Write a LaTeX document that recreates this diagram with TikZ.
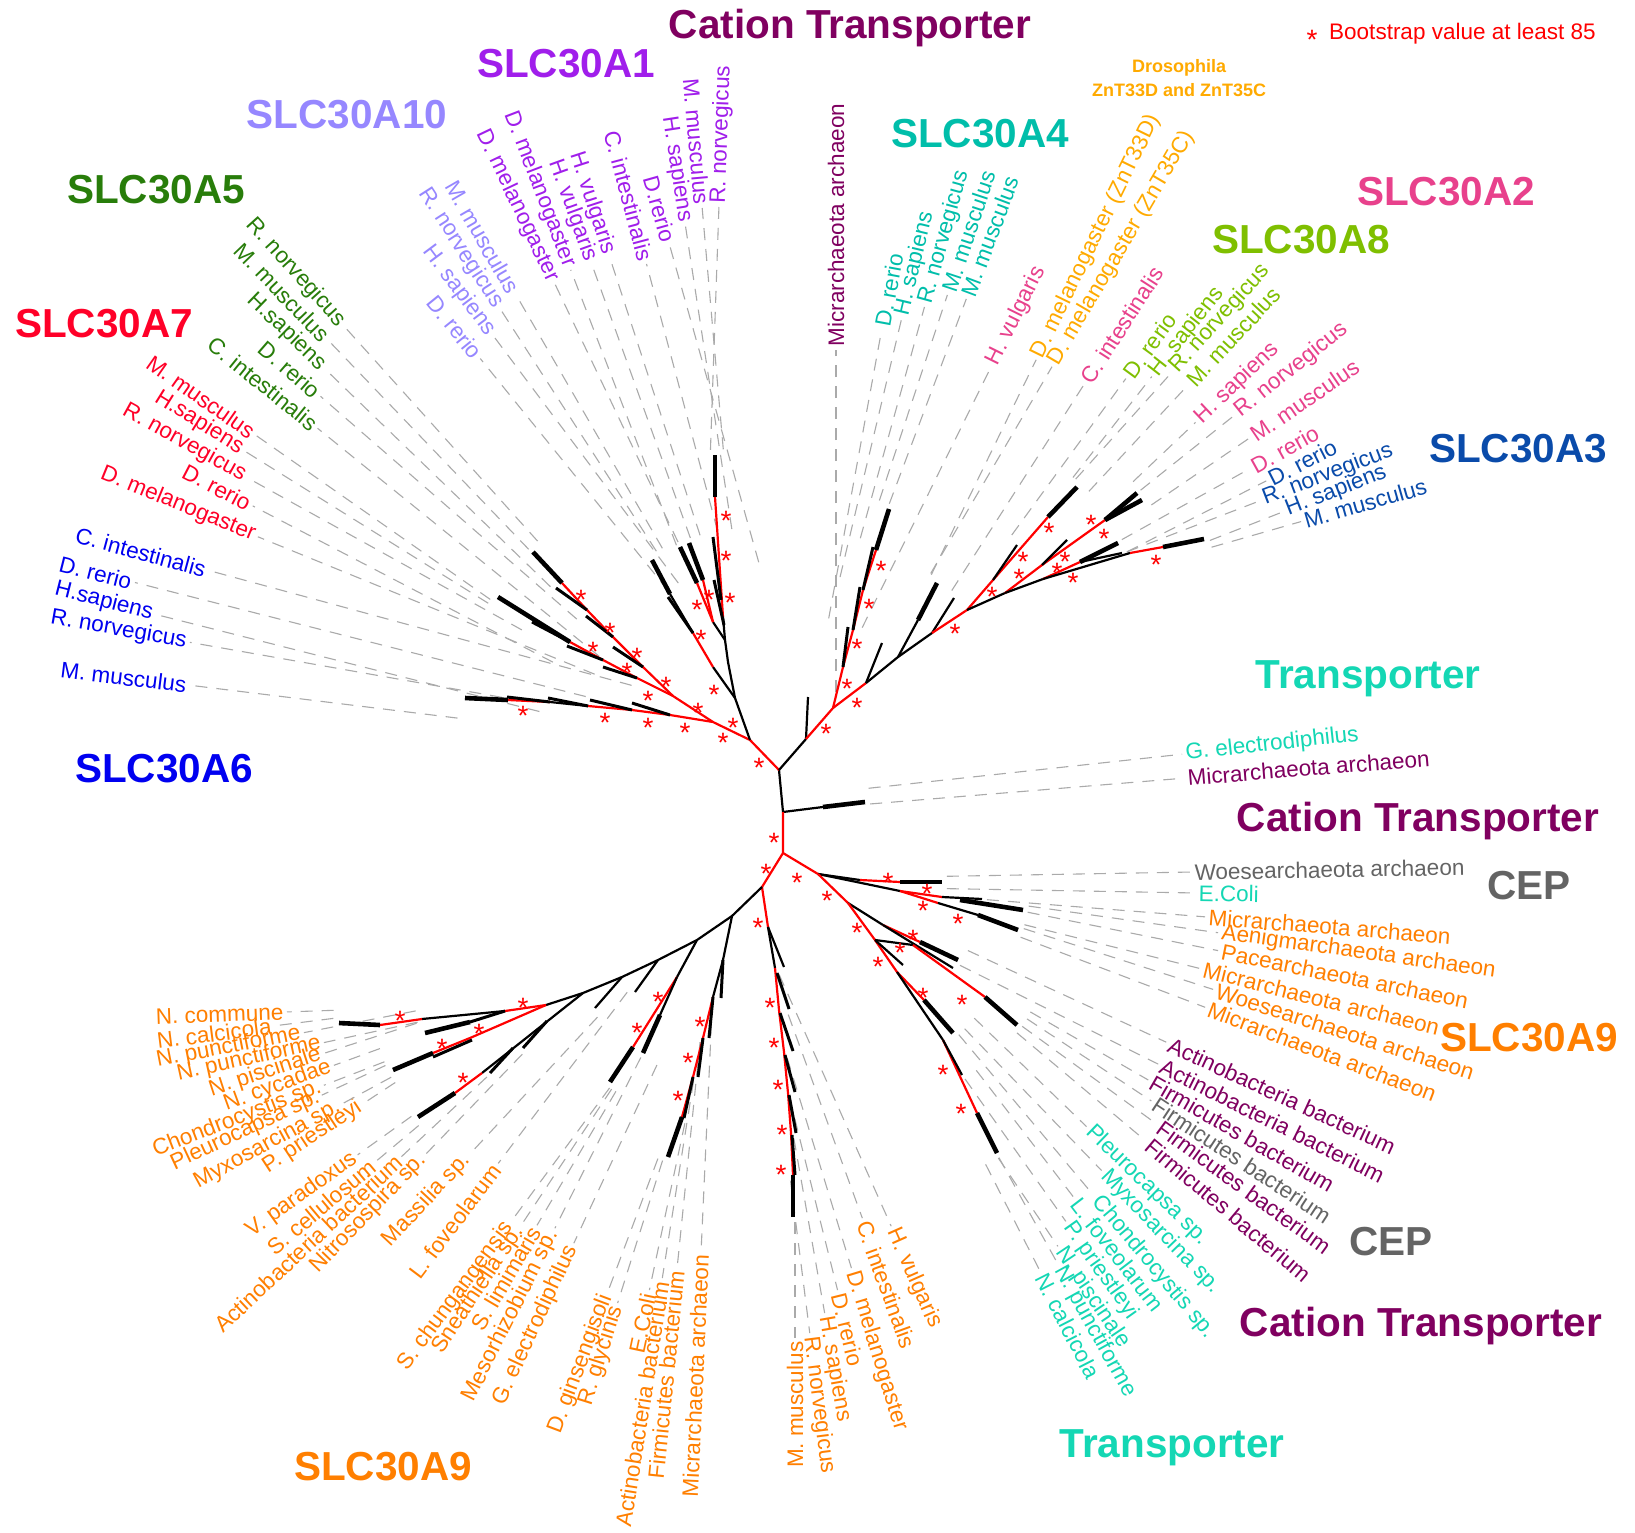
\documentclass[tikz,border=0pt]{standalone}
\usepackage{fontspec}
\setmainfont{Liberation Sans}
\usetikzlibrary{calc}
\definecolor{catp}{HTML}{800060}
\definecolor{cAone}{HTML}{A01EEB}
\definecolor{cAten}{HTML}{9687FF}
\definecolor{cAfive}{HTML}{287D0A}
\definecolor{cAseven}{HTML}{FF0028}
\definecolor{cAsix}{HTML}{0000F0}
\definecolor{cAfour}{HTML}{00BEAA}
\definecolor{turq}{HTML}{14D7B4}
\definecolor{amber}{HTML}{FFAA00}
\definecolor{pinkc}{HTML}{E8418C}
\definecolor{lime}{HTML}{7FBF00}
\definecolor{dblue}{HTML}{0A4BAA}
\definecolor{orng}{HTML}{FF7F00}
\definecolor{greyc}{HTML}{646464}
\definecolor{dashc}{HTML}{AAAAAA}
\definecolor{treered}{HTML}{FF0000}
% #1 name, #2 tip coordinate, #3 inner end point, #4 outward angle, #5 colour, #6 text
\newcommand\leaf[6]{%
  \pgfmathsetmacro\lang{#4}%
  \pgfmathtruncatemacro\lside{or(\lang>90,\lang<-89.99)}%
  \ifnum\lside=1
    \node[lbl,text=#5,anchor=east,rotate=\lang+180] (#1) at (#3) {#6};
    \path let \p1=(#2), \p2=(#1.east), \n1={max((\x2-\x1)*cos(\lang)+(\y2-\y1)*sin(\lang),20pt)} in
      (#1.east) ++({\lang+180}:\n1) coordinate (#1s);
    \draw[dline] (#1s) -- (#1.east);
  \else
    \node[lbl,text=#5,anchor=west,rotate=\lang] (#1) at (#3) {#6};
    \path let \p1=(#2), \p2=(#1.west), \n1={max((\x2-\x1)*cos(\lang)+(\y2-\y1)*sin(\lang),20pt)} in
      (#1.west) ++({\lang+180}:\n1) coordinate (#1s);
    \draw[dline] (#1s) -- (#1.west);
  \fi}
\begin{document}
\begin{tikzpicture}[x=1pt,y=-1pt,
  lbl/.style={font=\fontsize{22.5}{27}\selectfont,inner sep=1.5pt},
  hd/.style={font=\fontsize{40.5}{48}\selectfont\bfseries,inner sep=0pt,anchor=base},
  sh/.style={font=\fontsize{18}{22}\selectfont\bfseries,inner sep=0pt,anchor=base,text=amber},
  ibr/.style={line width=2.2pt,line join=round},
  rbr/.style={ibr,treered},
  tbr/.style={line width=4.6pt},
  sbr/.style={line width=3pt},
  dline/.style={dashc,line width=1.1pt,dash pattern=on 12pt off 9pt,shorten <=5pt,shorten >=2pt},
  bst/.style={text=treered,font=\fontsize{28}{28}\selectfont,inner sep=0pt,yshift=-6pt}]
\fill[white] (0,0) rectangle (1635,1533);
\useasboundingbox (0,0) rectangle (1635,1533);

% ---------- tips ----------
\coordinate (tAa) at (715,455); \coordinate (tAb) at (713,537); \coordinate (tAc) at (714,580);
\coordinate (tAd) at (689,543); \coordinate (tAe) at (680,547);
\coordinate (tTa) at (652,560); \coordinate (tTb) at (668,597);
\coordinate (tFa) at (533,552); \coordinate (tFb) at (556,588); \coordinate (tFc) at (586,616); \coordinate (tFd) at (613,647);
\coordinate (tSa) at (498,597); \coordinate (tSb) at (532,622); \coordinate (tSc) at (567,646); \coordinate (tSd) at (603,667);
\coordinate (tXa) at (632,703); \coordinate (tXb) at (590,700); \coordinate (tXc) at (548,698); \coordinate (tXd) at (507,697); \coordinate (tXe) at (465,698);
\coordinate (tMic) at (808,697);
\coordinate (tQa) at (848,627); \coordinate (tQb) at (860,587); \coordinate (tQc) at (873,547); \coordinate (tQd) at (889,509);
\coordinate (tHv) at (882,643); \coordinate (tDm) at (937,583); \coordinate (tCi) at (954,598);
\coordinate (tEa) at (1017,545); \coordinate (tEb) at (1077,487);
\coordinate (tBa) at (1137,493); \coordinate (tBb) at (1142,500);
\coordinate (tCa) at (1118,543); \coordinate (tCb) at (1122,553); \coordinate (tCc) at (1204,539);
\coordinate (tGe) at (865,802);
\coordinate (tWo) at (942,882); \coordinate (tRa) at (982,899); \coordinate (tRb) at (1023,910); \coordinate (tRc) at (1018,930);
\coordinate (tKa) at (958,960); \coordinate (tKb) at (953,968); \coordinate (tFi) at (1017,1025);
\coordinate (tYa) at (953,1033); \coordinate (tYb) at (962,1075); \coordinate (tYc) at (997,1153);
\coordinate (tVa) at (784,967); \coordinate (tVb) at (789,1009); \coordinate (tVc) at (793,1051); \coordinate (tVd) at (795,1092);
\coordinate (tVe) at (796,1133); \coordinate (tVf) at (795,1175); \coordinate (tVg) at (793,1217);
\coordinate (tWa) at (721,998); \coordinate (tWb) at (709,1038); \coordinate (tWc) at (698,1077); \coordinate (tWd) at (684,1118); \coordinate (tWe) at (668,1157);
\coordinate (tUa) at (643,1053); \coordinate (tUb) at (610,1082);
\coordinate (tLf) at (635,992); \coordinate (tMa) at (595,1008);
\coordinate (tNa) at (523,1048); \coordinate (tNb) at (490,1073); \coordinate (tNc) at (418,1117);
\coordinate (tOa) at (339,1023); \coordinate (tOb) at (425,1033); \coordinate (tOc) at (393,1070);

% ---------- leaf labels ----------
\leaf{l1}{tAa}{719,205}{88}{cAone}{R. norvegicus}
\leaf{l2}{tAa}{702,206}{95}{cAone}{M. musculus}
\leaf{l3}{tAb}{685,223}{98.7}{cAone}{H. sapiens}
\leaf{l4}{tAc}{669,243}{105.7}{cAone}{D.rerio}
\leaf{l5}{tAd}{646,262}{104.9}{cAone}{C. intestinalis}
\leaf{l6}{tAe}{609,255}{108}{cAone}{H. vulgaris}
\leaf{l7}{tAe}{591,262}{109.8}{cAone}{H. vulgaris}
\leaf{l8}{tTa}{570,268}{111}{cAone}{D. melanogaster}
\leaf{l9}{tTa}{554,282}{115.5}{cAone}{D. melanogaster}
\leaf{l10}{tTa}{515,293}{120}{cAten}{M. musculus}
\leaf{l11}{tTa}{499,307}{122.8}{cAten}{R. norvegicus}
\leaf{l12}{tTb}{492,334}{126.8}{cAten}{H. sapiens}
\leaf{l13}{tTb}{479,357}{129}{cAten}{D. rerio}
\leaf{l14}{tFa}{343,325}{132}{cAfive}{R. norvegicus}
\leaf{l15}{tFa}{327,339}{133.8}{cAfive}{M. musculus}
\leaf{l16}{tFb}{324,368}{136}{cAfive}{H.sapiens}
\leaf{l17}{tFc}{319,395}{139}{cAfive}{D. rerio}
\leaf{l18}{tFd}{316,427}{141}{cAfive}{C. intestinalis}
\leaf{l19}{tSa}{254,434}{145}{cAseven}{M. musculus}
\leaf{l20}{tSa}{243,450}{148}{cAseven}{H.sapiens}
\leaf{l21}{tSb}{246,477}{151}{cAseven}{R. norvegicus}
\leaf{l22}{tSc}{251,505}{152.5}{cAseven}{D. rerio}
\leaf{l23}{tSd}{256,536}{157.8}{cAseven}{D. melanogaster}
\leaf{l24}{tXa}{207,570}{164.8}{cAsix}{C. intestinalis}
\leaf{l25}{tXb}{133,582}{165.8}{cAsix}{D. rerio}
\leaf{l26}{tXc}{154,614}{165.8}{cAsix}{H.sapiens}
\leaf{l27}{tXd}{188,642}{170}{cAsix}{R. norvegicus}
\leaf{l28}{tXe}{188,685}{173}{cAsix}{M. musculus}
\leaf{l29}{tMic}{836,348}{90}{catp}{Micrarchaeota archaeon}
\leaf{l30}{tQa}{882,328}{79.6}{cAfour}{D. rerio}
\leaf{l31}{tQb}{902,317}{76.6}{cAfour}{H. sapiens}
\leaf{l32}{tQc}{925,305}{74.5}{cAfour}{R. norvegicus}
\leaf{l33}{tQd}{948,293}{71.7}{cAfour}{M. musculus}
\leaf{l34}{tQd}{967,297}{69.4}{cAfour}{M. musculus}
\leaf{l35}{tHv}{992,365}{63.7}{pinkc}{H. vulgaris}
\leaf{l36}{tDm}{1037,358}{64}{amber}{D. melanogaster (ZnT33D)}
\leaf{l37}{tDm}{1053,365}{59.6}{amber}{D. melanogaster (ZnT35C)}
\leaf{l38}{tCi}{1085,383}{57.3}{pinkc}{C. intestinalis}
\leaf{l39}{tEa}{1127,377}{53.9}{lime}{D. rerio}
\leaf{l40}{tEb}{1153,375}{52}{lime}{H. sapiens}
\leaf{l41}{tEb}{1173,371}{48}{lime}{R. norvegicus}
\leaf{l42}{tEb}{1189,384}{47}{lime}{M. musculus}
\leaf{l43}{tBa}{1197,421}{43.5}{pinkc}{H. sapiens}
\leaf{l44}{tBb}{1236,414}{38.6}{pinkc}{R. norvegicus}
\leaf{l45}{tBb}{1251,437}{34.3}{pinkc}{M. musculus}
\leaf{l46}{tCa}{1251,468}{29}{pinkc}{D. rerio}
\leaf{l47}{tCb}{1268,480}{27}{dblue}{D. rerio}
\leaf{l48}{tCb}{1262,500}{21}{dblue}{R. norvegicus}
\leaf{l49}{tCc}{1285,511}{21.4}{dblue}{H. sapiens}
\leaf{l50}{tCc}{1303,521}{16}{dblue}{M. musculus}
\leaf{l51}{tGe}{1184,754}{6.2}{turq}{G. electrodiphilus}
\leaf{l52}{tGe}{1186,778}{4.7}{catp}{Micrarchaeota archaeon}
\leaf{l53}{tWo}{1193,872}{1}{greyc}{Woesearchaeota archaeon}
\leaf{l54}{tWo}{1197,893}{-1}{turq}{E.Coli}
\leaf{l55}{tRa}{1207,917}{-4.5}{orng}{Micrarchaeota archaeon}
\leaf{l56}{tRb}{1220,933}{-8}{orng}{Aenigmarchaeota archaeon}
\leaf{l57}{tRb}{1220,951}{-11.4}{orng}{Pacearchaeota archaeon}
\leaf{l58}{tRc}{1202,969}{-14}{orng}{Micrarchaeota archaeon}
\leaf{l59}{tRc}{1215,990}{-17.8}{orng}{Woesearchaeota archaeon}
\leaf{l60}{tRc}{1207,1008}{-20.8}{orng}{Micrarchaeota archaeon}
\leaf{l61}{tKa}{1168,1043}{-24.8}{catp}{Actinobacteria bacterium}
\leaf{l62}{tKb}{1160,1065}{-26.5}{catp}{Actinobacteria bacterium}
\leaf{l63}{tFi}{1150,1081}{-30}{catp}{Firmicutes bacterium}
\leaf{l64}{tFi}{1153,1102}{-33.4}{greyc}{Firmicutes bacterium}
\leaf{l65}{tFi}{1158,1125}{-36}{catp}{Firmicutes bacterium}
\leaf{l66}{tFi}{1147,1142}{-40}{catp}{Firmicutes bacterium}
\leaf{l67}{tYa}{1088,1128}{-44}{turq}{Pleurocapsa sp.}
\leaf{l68}{tYa}{1103,1172}{-46}{turq}{Myxosarcina sp.}
\leaf{l69}{tYa}{1095,1197}{-50}{turq}{Chondrocystis sp.}
\leaf{l70}{tYb}{1075,1199}{-52.5}{turq}{L. foveolarum}
\leaf{l71}{tYb}{1067,1223}{-54.7}{turq}{P. priestleyi}
\leaf{l72}{tYc}{1059,1248}{-56}{turq}{N. piscinale}
\leaf{l73}{tYc}{1059,1266}{-61}{turq}{N. punctiforme}
\leaf{l74}{tYc}{1041,1273}{-63}{turq}{N. calcicola}
\leaf{l75}{tVa}{892,1228}{-66}{orng}{H. vulgaris}
\leaf{l76}{tVb}{863,1220}{-70}{orng}{C. intestinalis}
\leaf{l77}{tVc}{852,1270}{-73}{orng}{D. melanogaster}
\leaf{l78}{tVd}{838,1292}{-76}{orng}{D. rerio}
\leaf{l79}{tVe}{825,1315}{-80}{orng}{H. sapiens}
\leaf{l80}{tVf}{810,1335}{-82.8}{orng}{R. norvegicus}
\leaf{l81}{tVg}{795,1340}{-90}{orng}{M. musculus}
\leaf{l82}{tWa}{701,1253}{-92.6}{orng}{Micrarchaeota archaeon}
\leaf{l83}{tWb}{677,1269}{-95.8}{orng}{Firmicutes bacterium}
\leaf{l84}{tWc}{662,1280}{-99}{orng}{Actinobacteria bacterium}
\leaf{l85}{tWd}{649,1292}{-102}{orng}{E.Coli}
\leaf{l86}{tWe}{617,1305}{-107.5}{orng}{R. glycinis}
\leaf{l87}{tWe}{607,1294}{-110.6}{orng}{D. ginsengisoli}
\leaf{l88}{tUa}{573,1245}{-115}{orng}{G. electrodiphilus}
\leaf{l89}{tUa}{554,1230}{-116.7}{orng}{Mesorhizobium sp.}
\leaf{l90}{tUb}{536,1227}{-120.5}{orng}{S. limimaris}
\leaf{l91}{tUb}{520,1227}{-123.6}{orng}{Sneathiella sp.}
\leaf{l92}{tUb}{510,1223}{-126.4}{orng}{S. chungangensis}
\leaf{l93}{tLf}{497,1165}{-127}{orng}{L. foveolarum}
\leaf{l94}{tMa}{468,1156}{-133}{orng}{Massilia sp.}
\leaf{l95}{tNa}{424,1156}{-134}{orng}{Nitrosospira sp.}
\leaf{l96}{tNb}{400,1158}{-137}{orng}{Actinobacteria bacterium}
\leaf{l97}{tNc}{374,1163}{-140}{orng}{S. cellulosum}
\leaf{l98}{tNc}{356,1156}{-144.4}{orng}{V. paradoxus}
\leaf{l99}{tOc}{361,1105}{-146.7}{orng}{P. priestleyi}
\leaf{l100}{tOc}{340,1105}{-151.5}{orng}{Myxosarcina sp.}
\leaf{l101}{tOc}{320,1096}{-155}{orng}{Pleurocapsa sp.}
\leaf{l102}{tOc}{322,1086}{-158.8}{orng}{Chondrocystis sp.}
\leaf{l103}{tOc}{332,1066}{-160}{orng}{N. cycadae}
\leaf{l104}{tOb}{322,1054}{-162}{orng}{N. piscinale}
\leaf{l105}{tOb}{322,1043}{-167.7}{orng}{N. punctiforme}
\leaf{l106}{tOb}{302,1033}{-169}{orng}{N. punctiforme}
\leaf{l107}{tOa}{273,1026}{-172.8}{orng}{N. calcicola}
\leaf{l108}{tOa}{285,1012}{-178}{orng}{N. commune}

% ---------- tree ----------
% core
\draw[ibr] (779,770) -- (783,812) -- (823,807);
\draw[tbr] (823,807) -- (tGe);
\draw[rbr] (783,812) -- (783,853) -- (762,887);
\draw[rbr] (779,770) -- (750,740);
\draw[ibr] (779,770) -- (806,739);
% SLC30A6
\draw[rbr] (750,740) -- (713,722) -- (670,715) -- (632,710) -- (588,706);
\draw[ibr] (588,706) -- (550,702);
\draw[rbr] (550,702) -- (508,700);
\draw[tbr] (508,700) -- (tXe);
\draw[sbr] (670,715) -- (tXa); \draw[sbr] (632,710) -- (tXb); \draw[sbr] (588,706) -- (tXc); \draw[sbr] (550,702) -- (tXd);
% SLC30A7
\draw[rbr] (713,722) -- (673,696) -- (637,678) -- (603,660) -- (570,642);
\draw[tbr] (570,642) -- (tSa);
\draw[sbr] (637,678) -- (tSd); \draw[sbr] (603,660) -- (tSc); \draw[sbr] (570,642) -- (tSb);
% SLC30A5
\draw[rbr] (673,696) -- (643,667) -- (613,637) -- (587,610) -- (562,583);
\draw[tbr] (562,583) -- (tFa);
\draw[sbr] (643,667) -- (tFd); \draw[sbr] (613,637) -- (tFc); \draw[sbr] (587,610) -- (tFb);
% SLC30A1 / SLC30A10
\draw[ibr] (750,740) -- (735,698) -- (728,662) -- (725,640) -- (723,617);
\draw[rbr] (723,617) -- (715,497);
\draw[tbr] (715,497) -- (tAa);
\draw[sbr] (721,600) -- (tAb); \draw[sbr] (724,625) -- (tAc);
\draw[ibr] (725,640) -- (713,622);
\draw[rbr] (713,622) -- (697,583); \draw[tbr] (697,583) -- (tAe);
\draw[rbr] (713,622) -- (703,580); \draw[tbr] (703,580) -- (tAd);
\draw[ibr] (735,698) -- (713,667);
\draw[rbr] (713,667) -- (693,633);
\draw[ibr] (693,633) -- (670,594); \draw[tbr] (670,594) -- (tTa);
\draw[sbr] (693,633) -- (tTb);
% upper right
\draw[ibr] (806,739) -- (tMic);
\draw[rbr] (806,739) -- (833,708) -- (843,667) -- (853,630) -- (863,590) -- (876,550);
\draw[tbr] (876,550) -- (tQd);
\draw[sbr] (843,667) -- (tQa); \draw[sbr] (853,630) -- (tQb); \draw[sbr] (863,590) -- (tQc);
\draw[rbr] (833,708) -- (866,683);
\draw[ibr] (866,683) -- (tHv);
\draw[ibr] (866,683) -- (898,657) -- (918,620); \draw[tbr] (918,620) -- (tDm);
\draw[ibr] (898,657) -- (932,633) -- (tCi);
\draw[rbr] (932,633) -- (967,610) -- (993,580) -- (1048,517);
\draw[tbr] (1048,517) -- (tEb);
\draw[ibr] (993,580) -- (tEa);
\draw[ibr] (967,610) -- (1005,593);
\draw[rbr] (1005,593) -- (1042,565) -- (1105,520);
\draw[tbr] (1105,520) -- (tBb); \draw[tbr] (1105,520) -- (tBa);
\draw[ibr] (1042,565) -- (1067,540);
\draw[ibr] (1005,593) -- (1043,579);
\draw[rbr] (1043,579) -- (1080,562); \draw[tbr] (1080,562) -- (tCa);
\draw[ibr] (1080,562) -- (tCb);
\draw[ibr] (1043,579) -- (1130,553); \draw[rbr] (1130,553) -- (1163,547); \draw[tbr] (1163,547) -- (tCc);
% lower right
\draw[rbr] (783,853) -- (818,874);
\draw[ibr] (818,874) -- (860,880); \draw[rbr] (860,880) -- (900,882); \draw[tbr] (900,882) -- (tWo);
\draw[ibr] (818,874) -- (900,891);
\draw[rbr] (900,891) -- (942,897); \draw[ibr] (942,897) -- (tRa); \draw[tbr] (960,900) -- (tRb);
\draw[rbr] (900,891) -- (938,903); \draw[ibr] (938,903) -- (978,915); \draw[tbr] (978,915) -- (tRc);
\draw[rbr] (818,874) -- (848,903);
\draw[ibr] (848,903) -- (883,925); \draw[rbr] (883,925) -- (920,942); \draw[tbr] (920,942) -- (tKa);
\draw[ibr] (883,925) -- (tKb);
\draw[rbr] (848,903) -- (875,940) -- (897,972) -- (924,1000); \draw[tbr] (924,1000) -- (tYa);
\draw[ibr] (875,940) -- (903,965);
\draw[ibr] (875,940) -- (913,945); \draw[rbr] (913,945) -- (985,997); \draw[tbr] (985,997) -- (tFi);
\draw[ibr] (897,972) -- (943,1040); \draw[rbr] (943,1040) -- (977,1113); \draw[tbr] (977,1113) -- (tYc);
\draw[ibr] (943,1040) -- (tYb);
% vertical clade
\draw[rbr] (762,887) -- (768,927);
\draw[ibr] (768,927) -- (775,968); \draw[ibr] (768,927) -- (tVa);
\draw[rbr] (775,968) -- (779,1010) -- (784,1052) -- (788,1093) -- (791,1133) -- (793,1175);
\draw[tbr] (793,1175) -- (tVg);
\draw[sbr] (777,973) -- (tVb); \draw[sbr] (780,1013) -- (tVc); \draw[sbr] (785,1055) -- (tVd);
\draw[sbr] (789,1095) -- (tVe); \draw[sbr] (792,1135) -- (tVf);
% lower left
\draw[ibr] (762,887) -- (732,916) -- (723,960) -- (713,997);
\draw[rbr] (713,997) -- (703,1038) -- (693,1077) -- (682,1117);
\draw[tbr] (682,1117) -- (tWe);
\draw[sbr] (723,960) -- (tWa); \draw[sbr] (713,997) -- (tWb); \draw[sbr] (703,1038) -- (tWc); \draw[sbr] (693,1077) -- (tWd);
\draw[ibr] (732,916) -- (697,940) -- (677,977);
\draw[rbr] (677,977) -- (633,1047); \draw[tbr] (633,1047) -- (tUb);
\draw[ibr] (677,977) -- (660,1015); \draw[tbr] (660,1015) -- (tUa);
\draw[ibr] (697,940) -- (658,960) -- (622,977) -- (583,993) -- (546,1005);
\draw[ibr] (658,960) -- (tLf);
\draw[ibr] (622,977) -- (tMa);
\draw[ibr] (583,993) -- (482,1073); \draw[rbr] (482,1073) -- (455,1093); \draw[tbr] (455,1093) -- (tNc);
\draw[sbr] (547,1021) -- (tNa); \draw[sbr] (513,1048) -- (tNb);
\draw[rbr] (546,1005) -- (505,1011);
\draw[ibr] (505,1011) -- (422,1019); \draw[rbr] (422,1019) -- (380,1025); \draw[tbr] (380,1025) -- (tOa);
\draw[sbr] (505,1011) -- (470,1022); \draw[tbr] (470,1022) -- (tOb);
\draw[rbr] (546,1005) -- (500,1025) -- (470,1038) -- (433,1053); \draw[tbr] (433,1053) -- (tOc);
\draw[sbr] (472,1040) -- (433,1057);

% ---------- bootstrap stars ----------
\foreach \sx/\sy [count=\i] in {726/515,726/555,730/597,709/594,697/604,701/634,714/689,698/707,733/722,723/737,759/762,
  581/594,610/627,637/652,666/681,593/646,627/667,648/695,523/710,605/717,648/722,685/727,
  826/728,857/702,847/683,857/643,869/603,881/565,955/628,992/591,1019/573,1023/556,1049/527,1057/567,1065/556,1073/577,1091/519,1104/533,1156/559,
  774/837,766/868,797/877,827/895,888/877,927/888,923/905,958/918,913/934,900/947,857/927,878/961,923/992,962/999,943/1069,961/1108,
  758/922,770/1002,774/1042,778/1084,782/1129,781/1169,
  700/1021,688/1057,678/1095,658/996,637/1027,523/1002,479/1028,442/1043,400/1015,463/1077}{
  \node[bst] (st\i) at (\sx,\sy) {*};
}

% ---------- group headings ----------
\node[hd,text=catp] (h1) at (850,39) {Cation Transporter};
\node[hd,text=cAone] (h2) at (566,78) {SLC30A1};
\node[hd,text=cAten] (h3) at (347,129) {SLC30A10};
\node[hd,text=cAfive] (h4) at (156,204) {SLC30A5};
\node[hd,text=cAseven] (h5) at (104,337) {SLC30A7};
\node[hd,text=cAsix] (h6) at (164,782) {SLC30A6};
\node[hd,text=cAfour] (h7) at (980,148) {SLC30A4};
\node[hd,text=pinkc] (h8) at (1446,205) {SLC30A2};
\node[hd,text=lime] (h9) at (1301,253) {SLC30A8};
\node[hd,text=dblue] (h10) at (1518,462) {SLC30A3};
\node[hd,text=turq] (h11) at (1368,688) {Transporter};
\node[hd,text=catp] (h12) at (1418,831) {Cation Transporter};
\node[hd,text=greyc] (h13) at (1529,899) {CEP};
\node[hd,text=orng] (h14) at (1529,1051) {SLC30A9};
\node[hd,text=greyc] (h15) at (1391,1255) {CEP};
\node[hd,text=catp] (h16) at (1421,1336) {Cation Transporter};
\node[hd,text=turq] (h17) at (1172,1457) {Transporter};
\node[hd,text=orng] (h18) at (383,1480) {SLC30A9};
\node[sh] (h19) at (1179,73) {Drosophila};
\node[sh] (h20) at (1179,97) {ZnT33D and ZnT35C};
% legend
\node[bst] (lgs) at (1312,34) {*};
\node[lbl,text=treered,anchor=base west,inner sep=0pt] (lgt) at (1329,40) {Bootstrap value at least 85};
\end{tikzpicture}
\end{document}
